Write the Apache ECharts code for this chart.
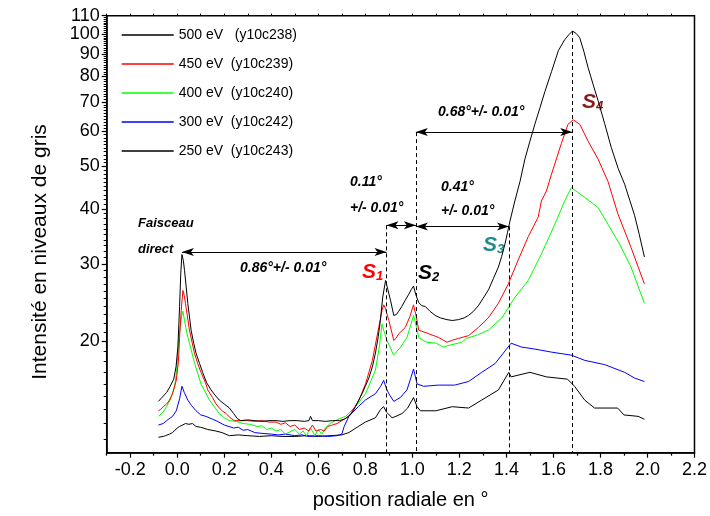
<!DOCTYPE html>
<html><head><meta charset="utf-8">
<script src="https://cdn.jsdelivr.net/npm/echarts@6/dist/echarts.min.js"></script>
<style>html,body{margin:0;padding:0;background:#fff}#c{width:710px;height:516px}</style>
</head><body><div id="c"></div>
<script>
const seriesNames = ['500 eV   (y10c238)', '450 eV  (y10c239)', '400 eV  (y10c240)', '300 eV  (y10c242)', '250 eV  (y10c243)'];
const seriesColors = ['#000000', '#ff0000', '#00ff00', '#0000ff', '#000000'];

const s500 = [[-0.08,14.6],[-0.07,14.8],[-0.06,15.0],[-0.045,15.3],[-0.03,15.8],[-0.015,16.4],[-0.005,17.5],[0.003,19.5],[0.01,24.0],[0.015,28.5],[0.02,31.5],[0.026,30.5],[0.031,29.0],[0.045,24.4],[0.059,21.2],[0.07,19.8],[0.08,18.8],[0.095,17.8],[0.108,17.0],[0.125,16.1],[0.144,15.5],[0.16,15.1],[0.179,14.7],[0.2,14.4],[0.222,14.1],[0.24,13.7],[0.255,13.35],[0.27,13.2],[0.3,13.25],[0.33,13.2],[0.36,13.15],[0.39,13.2],[0.42,13.2],[0.45,13.15],[0.48,13.2],[0.51,13.2],[0.54,13.15],[0.56,13.2],[0.567,13.5],[0.575,13.2],[0.6,13.2],[0.63,13.15],[0.66,13.2],[0.69,13.2],[0.71,13.3],[0.73,13.5],[0.745,13.8],[0.758,14.2],[0.772,14.7],[0.786,15.2],[0.8,15.8],[0.815,16.5],[0.83,17.5],[0.843,18.8],[0.855,20.5],[0.864,22.3],[0.874,25.2],[0.886,27.5],[0.896,26.2],[0.907,24.8],[0.921,22.9],[0.932,23.0],[0.942,23.4],[0.955,24.0],[0.97,24.8],[0.985,25.6],[0.995,26.2],[1.005,26.7],[1.015,25.5],[1.027,24.5],[1.04,24.1],[1.055,24.0],[1.075,23.4],[1.097,22.9],[1.12,22.6],[1.147,22.4],[1.17,22.3],[1.196,22.4],[1.22,22.6],[1.239,22.9],[1.26,23.4],[1.281,24.1],[1.3,25.0],[1.324,26.2],[1.345,27.8],[1.366,29.5],[1.38,31.2],[1.394,33.3],[1.405,35.4],[1.415,37.5],[1.436,41.7],[1.458,46.2],[1.479,52.0],[1.5,57.0],[1.521,62.3],[1.543,68.0],[1.564,74.0],[1.592,82.1],[1.621,91.6],[1.648,97.0],[1.665,99.5],[1.681,101.5],[1.697,100.2],[1.712,98.0],[1.73,91.0],[1.747,84.0],[1.768,77.0],[1.79,70.5],[1.818,62.5],[1.846,55.2],[1.875,49.5],[1.903,45.5],[1.925,41.8],[1.945,38.7],[1.965,35.0],[1.987,31.1]];

const s450 = [[-0.08,13.9],[-0.07,14.0],[-0.06,14.2],[-0.045,14.4],[-0.033,14.7],[-0.02,15.2],[-0.004,16.3],[0.005,18.0],[0.01,20.4],[0.017,23.5],[0.024,26.1],[0.03,25.4],[0.035,24.4],[0.052,21.2],[0.073,18.8],[0.087,17.8],[0.101,17.0],[0.12,16.1],[0.13,15.5],[0.15,14.9],[0.165,14.4],[0.19,13.9],[0.208,13.7],[0.225,13.4],[0.243,13.2],[0.27,13.2],[0.3,13.2],[0.33,13.15],[0.36,13.2],[0.39,13.1],[0.42,13.1],[0.44,12.95],[0.46,13.05],[0.48,12.8],[0.5,12.9],[0.52,12.6],[0.54,12.7],[0.56,12.5],[0.575,12.9],[0.59,12.5],[0.61,12.6],[0.625,12.5],[0.64,12.8],[0.66,12.9],[0.68,13.0],[0.7,13.2],[0.72,13.4],[0.738,13.7],[0.773,14.7],[0.801,16.0],[0.83,18.1],[0.857,21.5],[0.871,23.5],[0.878,24.2],[0.885,23.8],[0.9,22.3],[0.921,20.1],[0.93,20.3],[0.942,20.8],[0.97,21.5],[0.99,22.8],[1.005,24.2],[1.018,22.6],[1.027,21.2],[1.07,20.8],[1.112,20.4],[1.147,19.9],[1.17,20.1],[1.196,20.3],[1.239,20.6],[1.281,21.5],[1.323,22.6],[1.366,24.4],[1.408,27.0],[1.45,30.6],[1.493,34.6],[1.535,38.3],[1.549,41.7],[1.57,43.9],[1.592,48.0],[1.634,56.4],[1.662,62.3],[1.684,63.8],[1.712,62.3],[1.747,57.1],[1.79,51.9],[1.832,46.2],[1.874,39.0],[1.93,32.7],[1.987,27.0]];

const s400 = [[-0.08,13.5],[-0.06,13.8],[-0.046,14.2],[-0.03,14.7],[-0.011,15.8],[-0.003,17.0],[0.003,18.8],[0.01,21.0],[0.017,22.6],[0.024,23.4],[0.031,22.3],[0.04,21.0],[0.052,19.8],[0.073,17.9],[0.101,16.0],[0.137,14.7],[0.179,13.7],[0.2,13.4],[0.222,13.2],[0.25,13.15],[0.28,13.0],[0.31,12.95],[0.34,12.8],[0.36,12.85],[0.38,12.6],[0.4,12.7],[0.42,12.5],[0.44,12.6],[0.46,12.3],[0.48,12.45],[0.5,12.6],[0.52,12.3],[0.535,12.5],[0.55,12.2],[0.565,12.7],[0.575,12.5],[0.585,12.2],[0.6,12.6],[0.615,12.3],[0.63,12.7],[0.65,13.0],[0.672,13.2],[0.7,13.4],[0.716,13.5],[0.758,14.2],[0.801,15.2],[0.843,17.2],[0.86,19.5],[0.871,21.9],[0.878,21.2],[0.892,20.1],[0.92,18.6],[0.95,19.4],[0.977,20.4],[0.99,21.5],[1.005,22.9],[1.018,21.5],[1.027,20.4],[1.06,19.9],[1.102,19.8],[1.13,19.4],[1.16,19.6],[1.21,19.9],[1.23,20.3],[1.28,20.7],[1.323,21.2],[1.38,22.6],[1.437,25.2],[1.493,27.5],[1.549,31.6],[1.606,36.9],[1.648,41.7],[1.676,44.7],[1.733,42.5],[1.79,40.3],[1.832,36.9],[1.881,33.3],[1.93,29.5],[1.987,24.4]];

const s300 = [[-0.08,12.9],[-0.06,13.0],[-0.045,13.2],[-0.02,13.5],[-0.004,13.9],[0.01,14.8],[0.02,15.8],[0.03,15.3],[0.045,14.7],[0.06,14.3],[0.08,13.9],[0.1,13.6],[0.122,13.5],[0.15,13.3],[0.165,13.2],[0.2,12.9],[0.24,12.7],[0.26,12.75],[0.28,12.55],[0.3,12.6],[0.33,12.4],[0.36,12.35],[0.4,12.3],[0.43,12.25],[0.46,12.3],[0.5,12.2],[0.53,12.25],[0.56,12.15],[0.6,12.2],[0.64,12.15],[0.68,12.2],[0.7,12.3],[0.71,12.8],[0.73,13.5],[0.77,14.2],[0.8,14.7],[0.843,15.2],[0.865,15.8],[0.878,16.3],[0.89,15.6],[0.9,15.2],[0.921,14.6],[0.949,14.9],[0.977,15.5],[0.995,16.6],[1.005,17.3],[1.02,16.0],[1.048,15.8],[1.11,15.9],[1.18,15.9],[1.239,16.2],[1.295,17.0],[1.352,17.8],[1.387,18.8],[1.42,19.8],[1.465,19.4],[1.521,19.2],[1.591,18.9],[1.676,18.6],[1.733,18.1],[1.818,17.7],[1.903,17.0],[1.945,16.5],[1.987,16.2]];

const s250 = [[-0.08,12.1],[-0.06,12.15],[-0.05,12.2],[-0.033,12.3],[-0.02,12.4],[0.0,12.7],[0.01,12.8],[0.035,13.0],[0.05,12.95],[0.065,13.0],[0.08,12.8],[0.1,12.75],[0.13,12.6],[0.165,12.5],[0.19,12.4],[0.222,12.2],[0.26,12.25],[0.3,12.2],[0.35,12.15],[0.4,12.2],[0.45,12.15],[0.5,12.15],[0.55,12.2],[0.6,12.15],[0.65,12.2],[0.7,12.25],[0.73,12.4],[0.77,12.8],[0.8,13.1],[0.843,13.4],[0.865,14.0],[0.878,14.2],[0.89,13.8],[0.914,13.4],[0.93,13.5],[0.956,13.7],[0.98,14.1],[1.005,14.9],[1.02,14.2],[1.034,13.9],[1.1,13.9],[1.17,14.2],[1.239,14.1],[1.295,14.7],[1.366,15.5],[1.41,17.0],[1.42,16.6],[1.5,17.0],[1.57,16.6],[1.66,16.4],[1.69,15.8],[1.733,14.7],[1.775,14.1],[1.873,14.1],[1.9,13.6],[1.96,13.5],[1.987,13.3]];

const xMin = -0.3, xMax = 2.2, yMin = 11.16, yMax = 110;
const xMajorTicks = [-0.2, 0.0, 0.2, 0.4, 0.6, 0.8, 1.0, 1.2, 1.4, 1.6, 1.8, 2.0, 2.2];
const xMinorTicks = [-0.3, -0.1, 0.1, 0.3, 0.5, 0.7, 0.9, 1.1, 1.3, 1.5, 1.7, 1.9, 2.1];
const xTopTicks = [-0.3,-0.2,-0.1,0.0,0.1,0.2,0.3,0.4,0.5,0.6,0.7,0.8,0.9,1.0,1.1,1.2,1.3,1.4,1.5,1.6,1.7,1.8,1.9,2.0,2.1];
const yMajorTicks = [20, 30, 40, 50, 60, 70, 80, 90, 100, 110];
const yMinorTicks = [12,13,14,15,16,17,18,19,21,22,23,24,25,26,27,28,29,31,32,33,34,35,36,37,38,39,41,42,43,44,45,46,47,48,49,51,52,53,54,55,56,57,58,59,61,62,63,64,65,66,67,68,69,71,72,73,74,75,76,77,78,79,81,82,83,84,85,86,87,88,89,91,92,93,94,95,96,97,98,99,101,102,103,104,105,106,107,108,109];

// annotation guides: [x, top y]
const guideLines = [[0.89, 36.7], [1.015, 59.8], [1.411, 36.5], [1.68, 101.5]];
// span arrows: [x from, x to, y]
const spanArrows = [[0.02, 0.89, 31.9], [0.89, 1.015, 36.7], [1.015, 1.411, 36.5], [1.015, 1.68, 59.8]];

const FONT = '"Liberation Sans", Arial, sans-serif';
const chart = echarts.init(document.getElementById('c'), null, {renderer: 'canvas'});
const dataSets = [s500, s450, s400, s300, s250];

const series = dataSets.map((d, i) => ({
  name: seriesNames[i], type: 'line', data: d, symbol: 'none', showSymbol: false,
  lineStyle: {color: seriesColors[i], width: 1}, itemStyle: {color: seriesColors[i]},
  animation: false, silent: true, z: 5 - i
}));
series.push({
  type: 'line', data: [], silent: true, animation: false,
  markLine: {
    silent: true, animation: false, symbol: ['none', 'none'],
    label: {show: false}, lineStyle: {color: '#000', width: 1, type: [4, 3]},
    data: guideLines.map(g => [{coord: [g[0], g[1]]}, {coord: [g[0], yMin]}])
  }
});
series.push({
  type: 'line', data: [], silent: true, animation: false,
  markLine: {
    silent: true, animation: false, symbol: ['arrow', 'arrow'], symbolSize: [6, 12],
    label: {show: false}, lineStyle: {color: '#000', width: 1, type: 'solid'},
    data: spanArrows.map(a => [{coord: [a[0], a[2]]}, {coord: [a[1], a[2]]}])
  }
});

const annFont = 'italic bold 14px ' + FONT;
function txt(x, y, text, font, color) {
  return {type: 'text', x: x, y: y, silent: true,
    style: {text: text, font: font || annFont, fill: color || '#000', align: 'left', verticalAlign: 'middle'}};
}
function sLabel(x, y, sub, color) {
  return {type: 'text', x: x, y: y, silent: true,
    style: {text: '{a|S}{b|' + sub + '}', align: 'left', verticalAlign: 'middle', fill: color,
      rich: {a: {font: 'italic bold 21px ' + FONT, fill: color},
             b: {font: 'italic bold 13px ' + FONT, fill: color, verticalAlign: 'bottom', padding: [6, 0, 0, 0]}}}};
}

chart.setOption({
  animation: false,
  backgroundColor: '#ffffff',
  grid: {left: 106.7, right: 12.3, top: 15.7, bottom: 63.3, show: true, borderColor: '#000', borderWidth: 1.5, containLabel: false},
  legend: {
    data: seriesNames.map(n => ({name: n, icon: 'rect'})), orient: 'vertical', left: 121.7, top: 27, padding: 0,
    itemWidth: 52, itemHeight: 1.5, itemGap: 13,
    textStyle: {fontFamily: FONT, fontSize: 14, color: '#000', lineHeight: 16}, selectedMode: false
  },
  xAxis: [
    {type: 'value', min: xMin, max: xMax, position: 'bottom',
     axisLine: {show: true, onZero: false, lineStyle: {color: '#000', width: 1.5}},
     axisTick: {show: true, customValues: xMajorTicks, length: 5, lineStyle: {color: '#000', width: 1.2}},
     axisLabel: {show: true, customValues: xMajorTicks, formatter: v => v.toFixed(1), fontFamily: FONT, fontSize: 18, color: '#000', margin: 8},
     splitLine: {show: false},
     name: 'position radiale en °', nameLocation: 'middle', nameGap: 38,
     nameTextStyle: {fontFamily: FONT, fontSize: 20, color: '#000'}},
    {type: 'value', min: xMin, max: xMax, position: 'bottom',
     axisLine: {show: false, onZero: false}, axisTick: {show: true, customValues: xMinorTicks, length: 3, lineStyle: {color: '#000', width: 1.2}},
     axisLabel: {show: false}, splitLine: {show: false}},
    {type: 'value', min: xMin, max: xMax, position: 'top',
     axisLine: {show: false, onZero: false}, axisTick: {show: true, customValues: xTopTicks, length: 2, lineStyle: {color: '#000', width: 1}},
     axisLabel: {show: false}, splitLine: {show: false}}
  ],
  yAxis: [
    {type: 'log', logBase: 10, min: yMin, max: yMax, position: 'left',
     axisLine: {show: true, onZero: false, lineStyle: {color: '#000', width: 1.5}},
     axisTick: {show: true, customValues: yMajorTicks, length: 5, lineStyle: {color: '#000', width: 1.2}},
     axisLabel: {show: true, customValues: yMajorTicks, formatter: v => String(Math.round(v)), fontFamily: FONT, fontSize: 18, color: '#000', margin: 7},
     splitLine: {show: false}},
    {type: 'log', logBase: 10, min: yMin, max: yMax, position: 'left',
     axisLine: {show: false, onZero: false}, axisTick: {show: true, customValues: yMinorTicks, length: 3, lineStyle: {color: '#000', width: 1}},
     axisLabel: {show: false}, splitLine: {show: false}}
  ],
  series: series,
  graphic: [
    {type: 'text', x: 40, y: 252, rotation: Math.PI / 2, silent: true,
     style: {text: 'Intensité en niveaux de gris', font: '21px ' + FONT, fill: '#000', align: 'center', verticalAlign: 'middle'}},
    txt(138, 223, 'Faisceau', 'italic bold 13px ' + FONT),
    txt(138, 249, 'direct', 'italic bold 13px ' + FONT),
    txt(240, 268, '0.86°+/- 0.01°'),
    txt(350, 182, '0.11°'),
    txt(350, 208, '+/- 0.01°'),
    txt(441, 187, '0.41°'),
    txt(441, 211, '+/- 0.01°'),
    txt(438, 112, '0.68°+/- 0.01°'),
    sLabel(362, 272, '1', '#ff0000'),
    sLabel(418, 273, '2', '#000000'),
    sLabel(483, 245, '3', '#1f8a8a'),
    sLabel(582, 102, '4', '#8b1a1a')
  ]
});
</script>
</body></html>
